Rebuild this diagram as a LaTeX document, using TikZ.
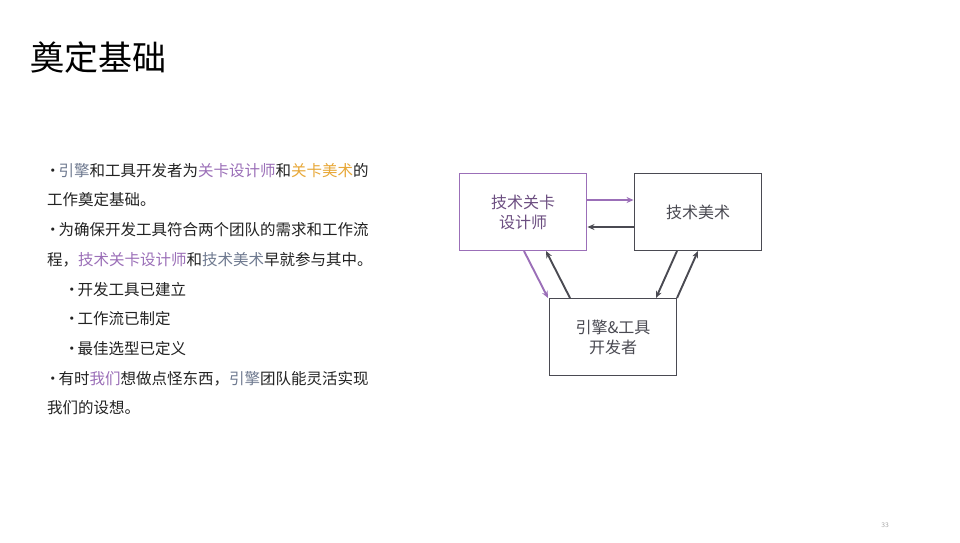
\documentclass[tikz,border=0pt]{standalone}
\usepackage{fontspec}
\newfontfamily\cjk{Noto Sans CJK SC}
\usetikzlibrary{arrows.meta}
\definecolor{pur}{HTML}{9B6FB8}
\definecolor{org}{HTML}{E8A838}
\definecolor{slt}{HTML}{6F7A90}
\definecolor{dk}{HTML}{4A4A52}
\definecolor{txt}{HTML}{222222}
\newcommand{\bdot}{\kern-2pt·\kern-2pt}
\begin{document}
\begin{tikzpicture}[x=1pt,y=-1pt,
  box/.style={draw=dk,line width=1.9pt,fill=white,minimum width=127pt,minimum height=77pt,font=\cjk\fontsize{16}{20}\selectfont,text=dk,align=center},
  ar/.style={line width=1.9pt,-{Stealth[length=7pt,width=6pt]}},
  ln/.style={anchor=base west,font=\cjk\fontsize{15.5}{18}\selectfont,text=txt,inner sep=0pt}]
\useasboundingbox (0,0) rectangle (960,542);
\fill[white] (0,0) rectangle (960,542);
\node[anchor=base west,font=\cjk\fontsize{34}{36}\selectfont,text=black,inner sep=0pt] (title) at (30,70) {奠定基础};
\node[ln] (l1) at (47,176) {\bdot\textcolor{slt}{引擎}和工具开发者为\textcolor{pur}{关卡设计师}和\textcolor{org}{关卡美术}的};
\node[ln] (l2) at (47,205) {工作奠定基础。};
\node[ln] (l3) at (47,235) {\bdot 为确保开发工具符合两个团队的需求和工作流};
\node[ln] (l4) at (47,265) {程，\textcolor{pur}{技术关卡设计师}和\textcolor{slt}{技术美术}早就参与其中。};
\node[ln] (l5) at (66,295) {\bdot 开发工具已建立};
\node[ln] (l6) at (66,324) {\bdot 工作流已制定};
\node[ln] (l7) at (66,354) {\bdot 最佳选型已定义};
\node[ln] (l8) at (47,384) {\bdot 有时\textcolor{pur}{我们}想做点怪东西，\textcolor{slt}{引擎}团队能灵活实现};
\node[ln] (l9) at (47,413) {我们的设想。};
\node[box,draw=pur,text=pur!70!black] (a) at (523,212) {技术关卡\\设计师};
\node[box] (b) at (698,212) {技术美术};
\node[box] (c) at (613,337) {引擎\&工具\\开发者};
\draw[ar,pur] ([yshift=12pt]a.east) -- ([yshift=12pt]b.west);
\draw[ar,dk] ([yshift=-15pt]b.west) -- ([yshift=-15pt]a.east);
\draw[ar,pur] (524,251) -- (548,298);
\draw[ar,dk] (570,298) -- (546,251);
\draw[ar,dk] (677,251) -- (656,298);
\draw[ar,dk] (677,298) -- (698,251);
\node[font=\sffamily\fontsize{7}{8}\selectfont,text=gray!70] (pg) at (885,525) {33};
\end{tikzpicture}
\end{document}
